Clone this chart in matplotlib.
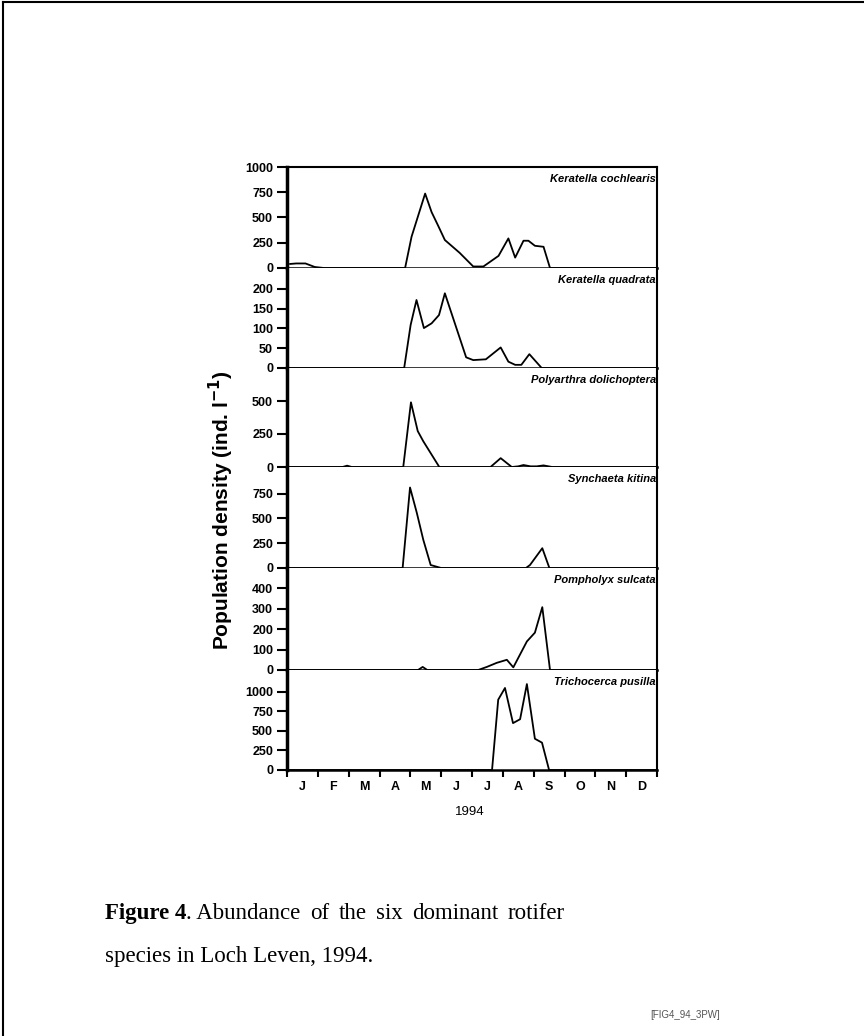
import matplotlib
matplotlib.use("Agg")
import matplotlib.pyplot as plt
from matplotlib.lines import Line2D

plt.rcParams['font.family'] = ['Liberation Sans', 'DejaVu Sans']

#data: x in months from 1 Jan 1994, y in ind. per litre
species = ["Keratella cochlearis", "Keratella quadrata", "Polyarthra dolichoptera",
           "Synchaeta kitina", "Pompholyx sulcata", "Trichocerca pusilla"]

k_coch_x = [0.1, 0.3, 0.6, 0.9, 1.2, 3.83, 4.04, 4.48, 4.69, 4.9, 5.12, 5.6, 6.04, 6.37, 6.86, 7.18, 7.40, 7.67, 7.83, 8.04, 8.32, 8.53, 12.0]
k_coch_y = [40, 45, 45, 10, 0, 0, 310, 737, 553, 420, 277, 150, 15, 15, 120, 293, 103, 270, 270, 220, 210, 0, 0]

k_quad_x = [0.0, 3.8, 4.01, 4.2, 4.44, 4.69, 4.93, 5.12, 5.81, 6.04, 6.45, 6.93, 7.18, 7.40, 7.60, 7.86, 8.26, 12.0]
k_quad_y = [0, 0, 109, 172, 101, 113, 134, 189, 27, 20, 22, 52, 16, 8, 8, 35, 0, 0]

p_dol_x = [0.0, 1.8, 1.95, 2.1, 3.77, 4.02, 4.24, 4.42, 4.94, 6.6, 6.93, 7.29, 7.5, 7.67, 7.9, 8.1, 8.32, 8.6, 12.0]
p_dol_y = [0, 0, 10, 0, 0, 490, 272, 195, 0, 0, 67, 0, 5, 15, 5, 5, 12, 0, 0]

s_kit_x = [0.0, 3.75, 3.99, 4.21, 4.42, 4.66, 5.0, 7.75, 7.88, 8.28, 8.51, 12.0]
s_kit_y = [0, 0, 813, 557, 285, 30, 0, 0, 30, 200, 0, 0]

p_sul_x = [0.0, 4.25, 4.4, 4.55, 6.2, 6.48, 6.8, 7.13, 7.34, 7.78, 8.04, 8.28, 8.53, 12.0]
p_sul_y = [0, 0, 15, 0, 0, 15, 35, 50, 13, 140, 183, 308, 0, 0]

t_pus_x = [0.0, 6.65, 6.85, 7.07, 7.33, 7.56, 7.78, 8.04, 8.27, 8.5, 12.0]
t_pus_y = [0, 0, 900, 1050, 600, 650, 1100, 400, 350, 0, 0]

series_x = [k_coch_x, k_quad_x, p_dol_x, s_kit_x, p_sul_x, t_pus_x]
series_y = [k_coch_y, k_quad_y, p_dol_y, s_kit_y, p_sul_y, t_pus_y]

y_limits = [1000, 253, 750, 1020, 500, 1280]
y_ticks = [[0, 250, 500, 750, 1000], [0, 50, 100, 150, 200], [0, 250, 500],
           [0, 250, 500, 750], [0, 100, 200, 300, 400], [0, 250, 500, 750, 1000]]

months = ["J", "F", "M", "A", "M", "J", "J", "A", "S", "O", "N", "D"]

caption_line1 = ["Figure 4", ". Abundance", "of", "the", "six", "dominant", "rotifer"]
caption_line2 = "species in Loch Leven, 1994."

W, H = 864, 1036
fig = plt.figure(figsize=(W / 100, H / 100), dpi=100)

#panel edges in pixels
left_px, right_px = 287, 657
edges = [167, 268, 368, 467, 568, 670, 770]

axes = []
for i in range(6):
    top, bot = edges[i], edges[i + 1]
    ax = fig.add_axes([left_px / W, 1 - bot / H, (right_px - left_px) / W, (bot - top) / H])
    ax.plot(series_x[i], series_y[i], color="black", lw=1.3)
    ax.set_xlim(0, 12)
    ax.set_ylim(0, y_limits[i])
    ax.set_yticks(y_ticks[i])
    ax.set_yticklabels([str(t) for t in y_ticks[i]], fontsize=9, fontweight="bold")
    ax.tick_params(axis="y", direction="out", length=7, width=1.5, pad=3)
    ax.spines["left"].set_linewidth(2.5)
    ax.spines["bottom"].set_linewidth(1.8)
    ax.spines["right"].set_linewidth(1.5)
    ax.spines["top"].set_linewidth(1.5 if i == 0 else 0)
    ax.text(0.997, 0.93, species[i], transform=ax.transAxes, ha="right", va="top",
            fontsize=8, fontweight="bold", fontstyle="italic")
    if i < 5:
        ax.set_xticks([])
    else:
        ax.set_xticks(range(13))
        ax.set_xticklabels([""] * 13)
        ax.set_xticks([m + 0.5 for m in range(12)], minor=True)
        ax.set_xticklabels(months, minor=True, fontsize=9, fontweight="bold")
        ax.tick_params(axis="x", which="major", direction="out", length=5, width=1.5)
        ax.tick_params(axis="x", which="minor", length=0, pad=8)
    axes.append(ax)

fig.text(221 / W, 1 - 510 / H, r"Population density (ind. l$^{\mathbf{-1}}$)", rotation=90,
         ha="center", va="center", fontsize=15, fontweight="bold")
fig.text(470 / W, 1 - 812 / H, "1994", ha="center", va="center", fontsize=9.5)

#caption: line 1 justified between x=105 and x=565
renderer = fig.canvas.get_renderer()
cap_fs = 16.5
words = []
for j, w in enumerate(caption_line1):
    t = fig.text(0, 1 - 919 / H, w, ha="left", va="baseline", fontsize=cap_fs,
                 fontweight="bold" if j == 0 else "normal", family="Liberation Serif")
    words.append(t)
widths = [t.get_window_extent(renderer=renderer).width for t in words]
# "Figure 4" and ". Abundance" touch, the rest get equal gaps
gap = (565 - 105 - sum(widths)) / (len(words) - 2)
x = 105
for j, t in enumerate(words):
    t.set_x(x / W)
    x += widths[j] + (gap if j > 0 else 0)
fig.text(105 / W, 1 - 962 / H, caption_line2, ha="left", va="baseline",
         fontsize=cap_fs, family="Liberation Serif")
fig.text(650 / W, 1 - 1015 / H, "[FIG4_94_3PW]", ha="left", va="center", fontsize=7,
         color="#555555")

#page border
fig.add_artist(Line2D([3 / W, 3 / W], [0, 1 - 2 / H], transform=fig.transFigure, color="black", lw=1.5))
fig.add_artist(Line2D([3 / W, 1], [1 - 2 / H, 1 - 2 / H], transform=fig.transFigure, color="black", lw=1.5))

fig.savefig("out.png", dpi=100)
